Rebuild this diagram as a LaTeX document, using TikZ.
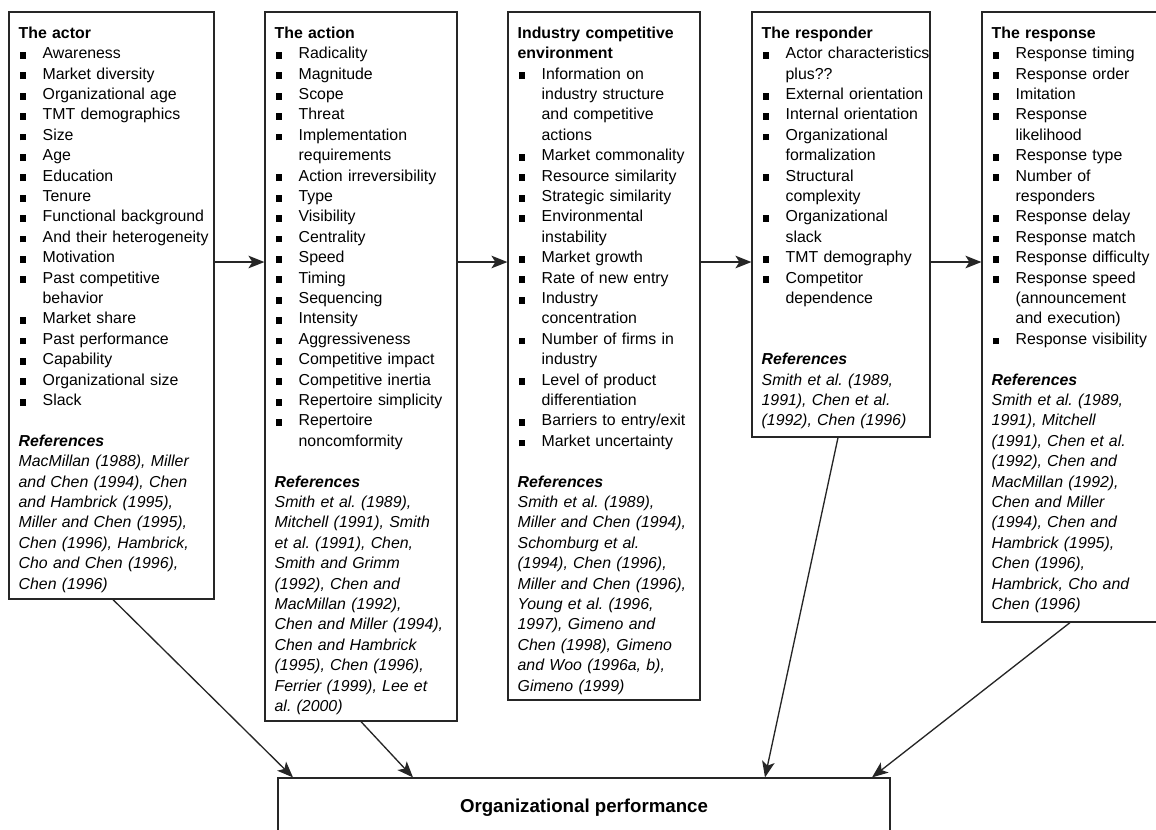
\documentclass[tikz,border=0pt]{standalone}
\usepackage{fontspec}
\setmainfont{Liberation Sans}
\usetikzlibrary{arrows.meta,fit}
\frenchspacing

\newcommand{\boxtitle}[1]{\noindent\rule{0pt}{11pt}\textbf{#1}\par}
\newcommand{\bitem}[1]{\noindent\hangindent=18pt\hangafter=1\makebox[18pt][l]{\hspace{0.75pt}\rule{5pt}{5pt}}#1\par}
\newcommand{\reflist}[2][1]{\vspace{#1\baselineskip}\noindent\textbf{\textit{References}}\newline{\itshape #2}\par}

\begin{document}
\begin{tikzpicture}[x=0.75pt,y=-0.75pt,
    panel/.style={draw=black!85,line width=0.9pt,inner sep=0pt},
    body/.style={anchor=north west,inner sep=0pt,text width=200pt,align=left,
      font=\fontsize{11.9}{15.3}\selectfont},
    link/.style={draw=black!85,line width=1pt,-{Stealth[length=12pt,width=9.5pt,inset=3pt]}}]
  \useasboundingbox (0,0) rectangle (1156,829);
  \clip (0,0) rectangle (1156,829);

  % the five boxes and the performance box
  \node[panel,fit={(9,12) (214,599)}] (actor) {};
  \node[panel,fit={(265,12) (457,721)}] (action) {};
  \node[panel,fit={(508,12) (700,700)}] (industry) {};
  \node[panel,fit={(752,12) (930,437)}] (responder) {};
  \node[panel,fit={(982,12) (1175,622)}] (response) {};
  \node[panel,fit={(278,778) (890,850)},font=\bfseries\fontsize{14}{16}\selectfont] (perf) {Organizational performance};

  % contents
  \node[body] (actortext) at ([shift={(7.5pt,-9pt)}]actor.north west) {%
    \boxtitle{The actor}
    \bitem{Awareness}
    \bitem{Market diversity}
    \bitem{Organizational age}
    \bitem{TMT demographics}
    \bitem{Size}
    \bitem{Age}
    \bitem{Education}
    \bitem{Tenure}
    \bitem{Functional background}
    \bitem{And their heterogeneity}
    \bitem{Motivation}
    \bitem{Past competitive\newline behavior}
    \bitem{Market share}
    \bitem{Past performance}
    \bitem{Capability}
    \bitem{Organizational size}
    \bitem{Slack}
    \reflist{MacMillan (1988), Miller\newline and Chen (1994), Chen\newline and Hambrick (1995),\newline Miller and Chen (1995),\newline Chen (1996), Hambrick,\newline Cho and Chen (1996),\newline Chen (1996)}};

  \node[body] (actiontext) at ([shift={(7.5pt,-9pt)}]action.north west) {%
    \boxtitle{The action}
    \bitem{Radicality}
    \bitem{Magnitude}
    \bitem{Scope}
    \bitem{Threat}
    \bitem{Implementation\newline requirements}
    \bitem{Action irreversibility}
    \bitem{Type}
    \bitem{Visibility}
    \bitem{Centrality}
    \bitem{Speed}
    \bitem{Timing}
    \bitem{Sequencing}
    \bitem{Intensity}
    \bitem{Aggressiveness}
    \bitem{Competitive impact}
    \bitem{Competitive inertia}
    \bitem{Repertoire simplicity}
    \bitem{Repertoire\newline noncomformity}
    \reflist{Smith et al. (1989),\newline Mitchell (1991), Smith\newline et al. (1991), Chen,\newline Smith and Grimm\newline (1992), Chen and\newline MacMillan (1992),\newline Chen and Miller (1994),\newline Chen and Hambrick\newline (1995), Chen (1996),\newline Ferrier (1999), Lee et\newline al. (2000)}};

  \node[body] (industrytext) at ([shift={(7.5pt,-9pt)}]industry.north west) {%
    \boxtitle{Industry competitive\newline environment}
    \bitem{Information on\newline industry structure\newline and competitive\newline actions}
    \bitem{Market commonality}
    \bitem{Resource similarity}
    \bitem{Strategic similarity}
    \bitem{Environmental\newline instability}
    \bitem{Market growth}
    \bitem{Rate of new entry}
    \bitem{Industry\newline concentration}
    \bitem{Number of firms in\newline industry}
    \bitem{Level of product\newline differentiation}
    \bitem{Barriers to entry/exit}
    \bitem{Market uncertainty}
    \reflist{Smith et al. (1989),\newline Miller and Chen (1994),\newline Schomburg et al.\newline (1994), Chen (1996),\newline Miller and Chen (1996),\newline Young et al. (1996,\newline 1997), Gimeno and\newline Chen (1998), Gimeno\newline and Woo (1996a, b),\newline Gimeno (1999)}};

  \node[body] (respondertext) at ([shift={(7.5pt,-9pt)}]responder.north west) {%
    \boxtitle{The responder}
    \bitem{Actor characteristics\newline plus??}
    \bitem{External orientation}
    \bitem{Internal orientation}
    \bitem{Organizational\newline formalization}
    \bitem{Structural\newline complexity}
    \bitem{Organizational\newline slack}
    \bitem{TMT demography}
    \bitem{Competitor\newline dependence}
    \reflist[2]{Smith et al. (1989,\newline 1991), Chen et al.\newline (1992), Chen (1996)}};

  \node[body] (responsetext) at ([shift={(7.5pt,-9pt)}]response.north west) {%
    \boxtitle{The response}
    \bitem{Response timing}
    \bitem{Response order}
    \bitem{Imitation}
    \bitem{Response\newline likelihood}
    \bitem{Response type}
    \bitem{Number of\newline responders}
    \bitem{Response delay}
    \bitem{Response match}
    \bitem{Response difficulty}
    \bitem{Response speed\newline (announcement\newline and execution)}
    \bitem{Response visibility}
    \reflist{Smith et al. (1989,\newline 1991), Mitchell\newline (1991), Chen et al.\newline (1992), Chen and\newline MacMillan (1992),\newline Chen and Miller\newline (1994), Chen and\newline Hambrick (1995),\newline Chen (1996),\newline Hambrick, Cho and\newline Chen (1996)}};

  % arrows along the chain
  \coordinate (row) at (0,262);
  \draw[link] (actor.east |- row) -- (action.west |- row);
  \draw[link] (action.east |- row) -- (industry.west |- row);
  \draw[link] (industry.east |- row) -- (responder.west |- row);
  \draw[link] (responder.east |- row) -- (response.west |- row);

  % arrows down to performance
  \draw[link] (113,0 |- actor.south) -- (293,0 |- perf.north);
  \draw[link] (361,0 |- action.south) -- (413,0 |- perf.north);
  \draw[link] (838,0 |- responder.south) -- (765,0 |- perf.north);
  \draw[link] (1070,0 |- response.south) -- (872,0 |- perf.north);
\end{tikzpicture}
\end{document}
